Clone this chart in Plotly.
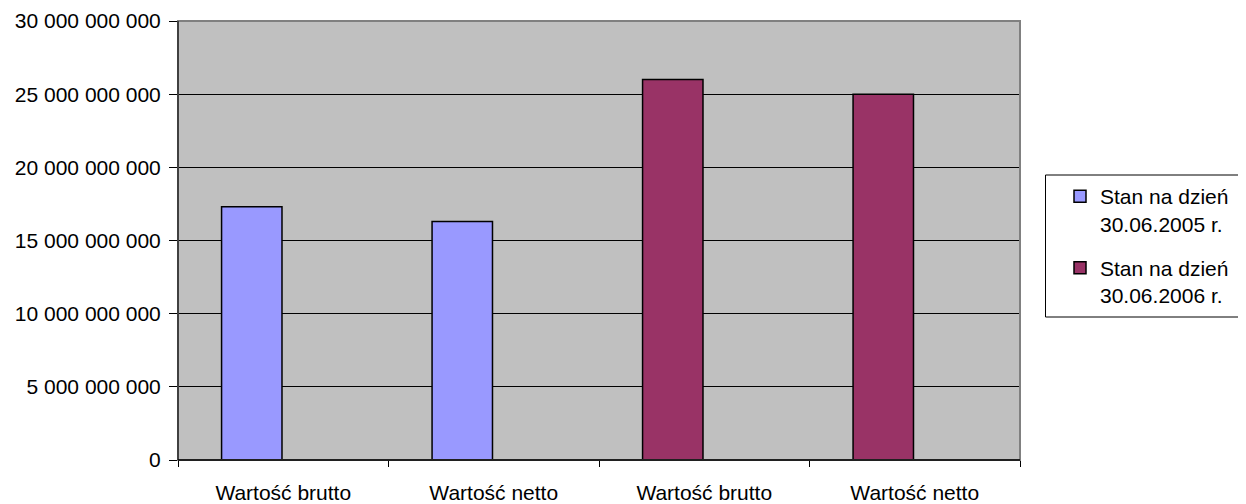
import plotly.graph_objects as go

categories = ["Wartość brutto", "Wartość netto", "Wartość brutto", "Wartość netto"]
series_names = ["Stan na dzień<br>30.06.2005 r.", "Stan na dzień<br>30.06.2006 r."]
values_2005 = [17.3e9, 16.3e9, None, None]
values_2006 = [None, None, 26.0e9, 25.0e9]
y_tick_values = [0, 5e9, 10e9, 15e9, 20e9, 25e9, 30e9]
y_tick_labels = ["0", "5 000 000 000", "10 000 000 000", "15 000 000 000",
                 "20 000 000 000", "25 000 000 000", "30 000 000 000"]

FONT = "Liberation Sans, Arial, sans-serif"
xpos = list(range(len(categories)))

# page body has an 8px margin; work in window coords and shift
OFF = 8
W, H = 1246 - OFF, 504 - OFF
L, R, T, B = 178 - OFF, 1020 - OFF, 21 - OFF, 460 - OFF
PW, PH = R - L, B - T

fig = go.Figure()
fig.add_trace(go.Bar(x=xpos, y=values_2005, name=series_names[0], legendgroup="a",
                     marker=dict(color="#9999FF", line=dict(color="black", width=1.5)),
                     offset=-0.293, width=0.287))
fig.add_trace(go.Bar(x=xpos, y=values_2006, name=series_names[1], legendgroup="b",
                     marker=dict(color="#993366", line=dict(color="black", width=1.5)),
                     offset=-0.293, width=0.287))

fig.update_layout(
    width=W, height=H,
    margin=dict(l=L, r=W - R, t=T, b=H - B, autoexpand=False),
    paper_bgcolor="white", plot_bgcolor="#C0C0C0",
    barmode="overlay",
    font=dict(family=FONT, size=21, color="black"),
    showlegend=True,
    legend=dict(x=(1060 - OFF - L) / PW, xanchor="left", y=(B - (246 - OFF)) / PH, yanchor="middle",
                bgcolor="rgba(0,0,0,0)", borderwidth=0, valign="top",
                font=dict(family=FONT, size=21, color="black"),
                tracegroupgap=14, traceorder="grouped"),
    xaxis=dict(range=[-0.5, 3.5], tickmode="array", tickvals=xpos, ticktext=categories,
               ticks="", showgrid=False, zeroline=False, automargin=False,
               showline=True, linecolor="black", linewidth=1,
               ticklabelstandoff=14,
               minor=dict(tickmode="array", tickvals=[-0.5, 0.5, 1.5, 2.5, 3.5],
                          ticks="outside", ticklen=6, tickcolor="black", showgrid=False),
               tickfont=dict(family=FONT, size=21)),
    yaxis=dict(range=[0, 30e9], tickmode="array", tickvals=y_tick_values, ticktext=y_tick_labels,
               ticks="outside", ticklen=8, tickcolor="black", automargin=False,
               showgrid=True, gridcolor="black", gridwidth=1, zeroline=False,
               showline=True, linecolor="black", linewidth=1,
               ticklabelstandoff=4,
               tickfont=dict(family=FONT, size=21)),
)

# plot area border (gray) and legend frame
fig.add_shape(type="rect", xref="paper", yref="paper", x0=0, x1=1, y0=0, y1=1,
              line=dict(color="#808080", width=2), fillcolor="rgba(0,0,0,0)", layer="above")
fig.add_shape(type="line", xref="paper", yref="paper", x0=0, x1=0, y0=0, y1=1,
              line=dict(color="black", width=1), layer="above")
fig.add_shape(type="line", xref="paper", yref="paper", x0=0, x1=1, y0=0, y1=0,
              line=dict(color="black", width=1.5), layer="above")
fig.add_shape(type="rect", xref="paper", yref="paper",
              x0=(1045.5 - OFF - L) / PW, x1=(1238 - L) / PW,
              y0=(B - (317 - OFF)) / PH, y1=(B - (175 - OFF)) / PH,
              line=dict(color="black", width=1), fillcolor="rgba(0,0,0,0)")

fig.write_html("out.html")
